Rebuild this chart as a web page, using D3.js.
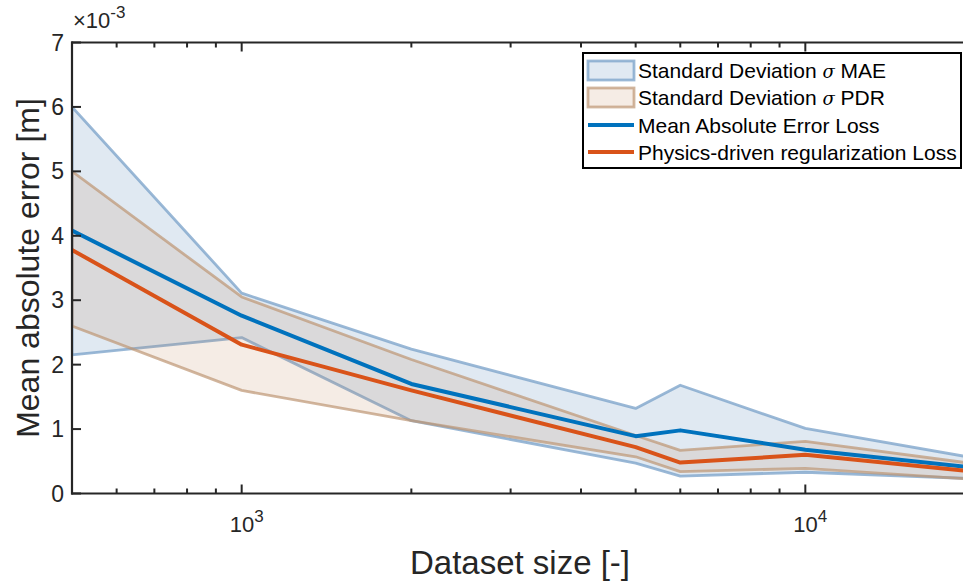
<!DOCTYPE html>
<html><head><meta charset="utf-8">
<script src="https://cdn.jsdelivr.net/npm/d3@7"></script>
<style>body{margin:0;background:#fff;} svg{display:block;font-family:"Liberation Sans",Arial,sans-serif;}</style>
</head><body>
<svg id="c" width="963" height="583"></svg>
<script>
const datasetSizes = [500, 1000, 2000, 5000, 6000, 10000, 20000];
const maeMean  = [4.08, 2.76, 1.70, 0.89, 0.98, 0.68, 0.40];
const maeUpper = [6.00, 3.11, 2.24, 1.32, 1.68, 1.01, 0.55];
const maeLower = [2.15, 2.42, 1.13, 0.47, 0.27, 0.33, 0.23];
const pdrMean  = [3.78, 2.31, 1.60, 0.72, 0.48, 0.60, 0.34];
const pdrUpper = [5.00, 3.05, 2.08, 0.90, 0.67, 0.81, 0.46];
const pdrLower = [2.60, 1.60, 1.13, 0.57, 0.34, 0.39, 0.22];
const yTicks = [0,1,2,3,4,5,6,7];
const legendLabels = ["Standard Deviation \u03c3 MAE","Standard Deviation \u03c3 PDR","Mean Absolute Error Loss","Physics-driven regularization Loss"];

const svg = d3.select("#c");
const L = 72, R = 975, T = 42.5, B = 493.5;
const x = d3.scaleLog().domain([500, 20000]).range([L, R]);
const y = d3.scaleLinear().domain([0, 7]).range([B, T]);
const axisCol = "#262626";

svg.append("defs").append("clipPath").attr("id","pc")
  .append("rect").attr("x",L).attr("y",T).attr("width",R-L).attr("height",B-T);
const g = svg.append("g").attr("clip-path","url(#pc)");

function band(up, lo, fill, fop, stroke) {
  const pts = datasetSizes.map((d,i)=>[x(d), y(up[i])]).concat(datasetSizes.map((d,i)=>[x(d), y(lo[i])]).reverse());
  g.append("path").attr("d", d3.line()(pts) + "Z")
    .attr("fill", fill).attr("fill-opacity", fop)
    .attr("stroke", stroke).attr("stroke-width", 2.8).attr("stroke-linejoin","round");
}
band(maeUpper, maeLower, "rgb(100,145,190)", 0.2, "rgba(120,160,200,0.75)");
band(pdrUpper, pdrLower, "rgb(185,125,80)", 0.15, "rgba(190,150,115,0.7)");

const ln = d3.line().x((d,i)=>x(datasetSizes[i])).y(d=>y(d));
g.append("path").attr("d", ln(maeMean)).attr("fill","none").attr("stroke","#0072bd").attr("stroke-width",4).attr("stroke-linejoin","round");
g.append("path").attr("d", ln(pdrMean)).attr("fill","none").attr("stroke","#d95319").attr("stroke-width",4).attr("stroke-linejoin","round");

// axes
const minor = [600,700,800,900,2000,3000,4000,5000,6000,7000,8000,9000,20000];
const ax = svg.append("g");
function xTicks(yy, dir) {
  [1000,10000].forEach(v=>ax.append("line").attr("x1",x(v)).attr("x2",x(v)).attr("y1",yy).attr("y2",yy+dir*9).attr("stroke",axisCol).attr("stroke-width",2));
  minor.forEach(v=>ax.append("line").attr("x1",x(v)).attr("x2",x(v)).attr("y1",yy).attr("y2",yy+dir*5).attr("stroke",axisCol).attr("stroke-width",2));
}
xTicks(B, -1); xTicks(T, 1);
yTicks.forEach(v=>{
  ax.append("line").attr("x1",L).attr("x2",L+9).attr("y1",y(v)).attr("y2",y(v)).attr("stroke",axisCol).attr("stroke-width",2);
  ax.append("text").attr("x",L-8).attr("y",y(v)+8).attr("text-anchor","end").attr("font-size",23).attr("fill",axisCol).text(v);
});
ax.append("line").attr("x1",L).attr("x2",L).attr("y1",T-1).attr("y2",B+1).attr("stroke",axisCol).attr("stroke-width",2.2);
ax.append("line").attr("x1",L-1).attr("x2",963).attr("y1",B).attr("y2",B).attr("stroke",axisCol).attr("stroke-width",2.2);
ax.append("line").attr("x1",L-1).attr("x2",963).attr("y1",T).attr("y2",T).attr("stroke",axisCol).attr("stroke-width",2.2);

[[1000,"3"],[10000,"4"]].forEach(([v,e])=>{
  const t = ax.append("text").attr("x",x(v)+5).attr("y",532).attr("text-anchor","middle").attr("font-size",22).attr("fill",axisCol);
  t.append("tspan").text("10");
  t.append("tspan").attr("dy",-10).attr("font-size",17).text(e);
});
const mult = ax.append("text").attr("x",L+1).attr("y",28).attr("font-size",22).attr("fill",axisCol);
mult.append("tspan").text("\u00d710");
mult.append("tspan").attr("dy",-10).attr("font-size",17).text("-3");

svg.append("text").attr("x",520).attr("y",574).attr("text-anchor","middle").attr("font-size",33).attr("fill",axisCol).text("Dataset size [-]");
svg.append("text").attr("transform","translate(39,268) rotate(-90)").attr("text-anchor","middle").attr("font-size",32).attr("fill",axisCol).text("Mean absolute error [m]");

// legend
const lg = svg.append("g");
lg.append("rect").attr("x",583).attr("y",53).attr("width",378).attr("height",115).attr("fill","#fff").attr("stroke","#000").attr("stroke-width",2);
const rows = [78,105,133,160];
lg.append("rect").attr("x",588).attr("y",61).attr("width",46).attr("height",19).attr("fill","rgb(100,145,190)").attr("fill-opacity",0.2).attr("stroke","rgba(120,160,200,0.75)").attr("stroke-width",2.8);
lg.append("rect").attr("x",588).attr("y",88).attr("width",46).attr("height",19).attr("fill","rgb(185,125,80)").attr("fill-opacity",0.15).attr("stroke","rgba(190,150,115,0.7)").attr("stroke-width",2.8);
lg.append("line").attr("x1",588).attr("x2",634).attr("y1",125).attr("y2",125).attr("stroke","#0072bd").attr("stroke-width",4);
lg.append("line").attr("x1",588).attr("x2",634).attr("y1",152).attr("y2",152).attr("stroke","#d95319").attr("stroke-width",4);
legendLabels.forEach((s,i)=>{
  const t = lg.append("text").attr("x",638).attr("y",rows[i]).attr("font-size",21).attr("fill","#000");
  if (s.includes("\u03c3")) {
    const parts = s.split("\u03c3");
    t.append("tspan").text(parts[0]);
    t.append("tspan").attr("font-family","'DejaVu Serif',serif").attr("font-style","italic").attr("font-size",18).text("\u03c3");
    t.append("tspan").text(parts[1]);
  } else t.text(s);
});
</script>
</body></html>
